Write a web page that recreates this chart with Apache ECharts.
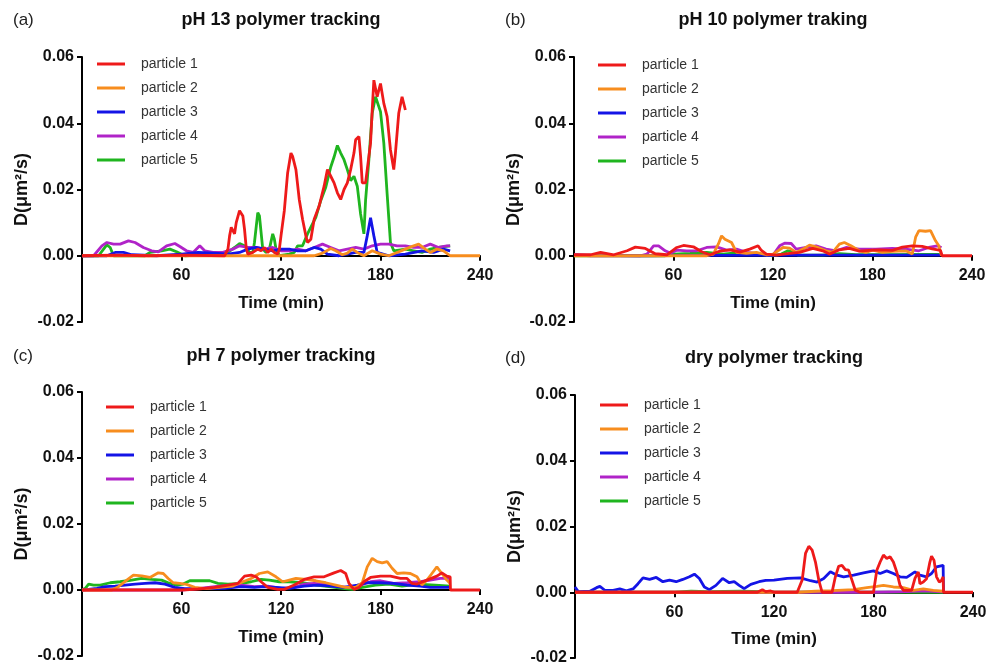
<!DOCTYPE html>
<html>
<head>
<meta charset="utf-8">
<script src="https://cdn.jsdelivr.net/npm/echarts@6/dist/echarts.min.js"></script>
<style>
  html, body { margin: 0; padding: 0; background: #fff; }
</style>
</head>
<body>
<div id="main" style="width: 990px;height:666px;"></div>
<script type="text/javascript">
// series names + colours, panel letters and titles
var names = ['particle 1', 'particle 2', 'particle 3', 'particle 4', 'particle 5'];
var colors = ['#ee1a1a', '#f78d1e', '#1414e6', '#b023c8', '#1fb51f'];
var letters = ['(a)', '(b)', '(c)', '(d)'];
var titles = ['pH 13 polymer tracking', 'pH 10 polymer traking', 'pH 7 polymer tracking', 'dry polymer tracking'];

// axis ranges (min / max / step)
var timeRange = [0, 240, 60];
var dRange = [-0.02, 0.06, 0.02];

// (a) pH 13 -- [time (min), D]
var a1 = [[0,0],[20,0.0002],[40,0],[60,0.0002],[86,0],[88,0.002],[89,0.006],[90,0.0086],[92,0.0066],[93,0.01],[95,0.0136],[97,0.012],[98,0.008],[99,0.0025],[100,0.0005],[103,0.001],[106,0.002],[108,0.0015],[110,0.0025],[112,0.001],[114,0.002],[116,0.001],[118,0.0005],[119,0.002],[120,0.006],[122,0.0136],[124,0.025],[126,0.031],[127,0.03],[129,0.026],[131,0.017],[133,0.011],[135,0.006],[136,0.004],[138,0.005],[140,0.011],[143,0.015],[146,0.021],[148,0.026],[150,0.024],[152,0.022],[154,0.019],[156,0.017],[158,0.02],[160,0.022],[162,0.026],[164,0.031],[165,0.035],[167,0.036],[168,0.03],[169,0.022],[171,0.022],[172,0.026],[174,0.034],[175,0.044],[176,0.053],[178,0.048],[180,0.052],[182,0.046],[184,0.042],[186,0.032],[188,0.026],[189,0.031],[191,0.043],[193,0.048],[195,0.044]];
var a2 = [[0,0],[140,0],[145,0.0008],[150,0.0022],[153,0.0015],[157,0.0003],[160,0.0008],[163,0.002],[166,0.001],[170,0],[175,0.0015],[180,0.0005],[185,0],[190,0.001],[195,0.002],[200,0.003],[203,0.0035],[207,0.002],[210,0.001],[214,0.002],[218,0.0015],[222,0],[240,0]];
var a3 = [[0,0],[15,0],[20,0.001],[25,0.001],[30,0.0003],[45,0],[60,0.0005],[70,0.001],[80,0.0008],[88,0.0005],[95,0.001],[100,0.002],[105,0.0025],[110,0.002],[115,0.0015],[120,0.002],[125,0.002],[130,0.0015],[135,0.0015],[140,0.0025],[144,0.002],[148,0.0005],[155,0],[160,0.0005],[165,0.001],[170,0.001],[172,0.006],[174,0.0115],[175,0.011],[176,0.006],[178,0.001],[185,0],[195,0.0005],[205,0.0015],[212,0.001],[218,0.002],[222,0.0015]];
var a4 = [[0,0],[7,0],[12,0.003],[15,0.004],[19,0.0035],[23,0.0035],[28,0.0045],[32,0.004],[37,0.0025],[42,0.0015],[46,0.0012],[51,0.003],[56,0.0037],[59,0.0028],[63,0.0015],[67,0.001],[71,0.003],[74,0.0015],[79,0.001],[85,0.001],[91,0.002],[95,0.003],[100,0.0025],[105,0.0025],[110,0.002],[115,0.0025],[120,0.0015],[125,0.0015],[130,0.002],[135,0.0015],[140,0.0025],[145,0.0035],[150,0.0025],[155,0.0015],[160,0.002],[165,0.0025],[170,0.002],[175,0.003],[180,0.0035],[185,0.0035],[190,0.003],[195,0.003],[200,0.0025],[205,0.0025],[210,0.0035],[215,0.0025],[220,0.003],[222,0.003]];
var a5 = [[0,0],[10,0],[13,0.002],[15,0.0033],[17,0.0025],[19,0],[38,0],[41,0.001],[48,0.0015],[53,0.002],[57,0.0012],[62,0],[82,0.0005],[88,0.001],[92,0.0025],[95,0.0037],[98,0.003],[101,0.001],[103,0.001],[104,0.004],[106,0.013],[107,0.012],[109,0.002],[111,0.001],[113,0.002],[115,0.0066],[116,0.005],[117,0.002],[119,0],[125,0.0005],[128,0.001],[130,0.003],[133,0.003],[136,0.0066],[139,0.0096],[141,0.0116],[144,0.0167],[147,0.0207],[150,0.0268],[152,0.0298],[154,0.0333],[156,0.031],[158,0.029],[160,0.026],[162,0.0227],[164,0.024],[166,0.021],[168,0.0126],[170,0.0066],[171,0.0167],[173,0.029],[175,0.043],[177,0.048],[180,0.0435],[182,0.034],[184,0.0187],[186,0.004],[188,0.0015],[195,0.002],[200,0.0015],[205,0.001],[210,0.002],[215,0.0025],[222,0.003]];

// (b) pH 10
var b1 = [[0,0.0003],[10,0.0003],[16,0.001],[24,0.0003],[32,0.0015],[37,0.0026],[43,0.0022],[49,0.0006],[56,0.0003],[62,0.0025],[66,0.0031],[72,0.0027],[77,0.0012],[82,0.0003],[88,0.0014],[94,0.0018],[100,0.0011],[106,0.002],[111,0.003],[113,0.0016],[116,0.0005],[122,0.0002],[130,0.0007],[136,0.001],[144,0.0022],[150,0.0015],[154,0.0005],[160,0.0018],[166,0.0022],[172,0.0014],[178,0.0016],[184,0.0018],[192,0.0016],[198,0.0026],[204,0.003],[210,0.0028],[216,0.0021],[221,0.0016],[222,0],[240,0]];
var b2 = [[0,0],[80,0],[84,0.0005],[87,0.0035],[89,0.006],[91,0.005],[92,0.0045],[95,0.004],[98,0.001],[104,0.0007],[110,0.001],[116,0.0003],[120,0.0005],[126,0.0025],[130,0.0023],[134,0.001],[138,0.002],[142,0.0032],[147,0.0025],[152,0.0015],[156,0.001],[160,0.0035],[163,0.004],[167,0.003],[172,0.0015],[176,0.001],[180,0.0017],[186,0.001],[192,0.0013],[200,0.0015],[204,0.0005],[206,0.0056],[208,0.0076],[212,0.0074],[215,0.0076],[218,0.0045],[220,0.003],[221.6,0]];
var b3 = [[0,0.0002],[40,0],[80,0.0001],[150,0.0002],[221,0.0002]];
var b4 = [[0,0.0003],[10,0],[40,0],[44,0.0005],[48,0.003],[51,0.003],[55,0.0015],[58,0.0008],[62,0.0017],[68,0.0015],[74,0.0015],[80,0.0025],[86,0.0027],[92,0.0017],[98,0.002],[104,0.001],[110,0.0007],[116,0.0002],[120,0.0002],[124,0.003],[127,0.0038],[131,0.0037],[134,0.002],[140,0.0025],[146,0.003],[152,0.002],[158,0.0015],[164,0.0025],[172,0.002],[182,0.002],[192,0.0022],[200,0.002],[208,0.0015],[214,0.0025],[219,0.003],[221.6,0.0025]];
var b5 = [[0,0],[55,0],[60,0.0005],[70,0.0007],[80,0.001],[90,0.0005],[100,0.001],[110,0.0005],[120,0],[125,0.0005],[129,0.0015],[132,0.0012],[135,0.0002],[150,0.0002],[160,0.0006],[170,0.0003],[190,0.0003],[210,0.0004],[221,0.0004]];

// (c) pH 7
var c1 = [[0,0],[60,0],[70,0.0003],[80,0.0008],[88,0.0015],[94,0.002],[98,0.0042],[102,0.0045],[105,0.004],[108,0.0025],[112,0.0008],[118,0.0002],[122,0.0002],[128,0.0015],[134,0.0032],[140,0.004],[146,0.004],[152,0.0052],[156,0.0059],[159,0.005],[161,0.002],[164,0.0002],[167,0.0008],[170,0.0025],[174,0.0038],[180,0.0042],[186,0.0042],[192,0.0035],[196,0.0035],[199,0.002],[202,0.0018],[208,0.003],[214,0.0042],[217,0.0052],[220,0.0042],[222,0.004],[222.2,0],[240,0]];
var c2 = [[0,0],[18,0],[22,0.001],[27,0.003],[31,0.0045],[36,0.0043],[41,0.0038],[46,0.0052],[49,0.005],[52,0.0035],[55,0.0022],[59,0.002],[63,0.0017],[68,0.0008],[75,0.0004],[83,0.0008],[91,0.0012],[97,0.0025],[102,0.0035],[107,0.005],[112,0.0055],[117,0.004],[121,0.0025],[125,0.003],[129,0.0035],[135,0.0032],[141,0.0028],[147,0.0022],[153,0.0015],[159,0.0008],[165,0.0008],[169,0.0022],[172,0.007],[175,0.0096],[178,0.0086],[181,0.0082],[184,0.0086],[187,0.0066],[190,0.005],[194,0.0052],[198,0.005],[202,0.004],[205,0.0015],[208,0.003],[211,0.005],[214,0.007],[217,0.005],[220,0.003],[222,0.002]];
var c3 = [[0,0],[4,0.0002],[9,0.0005],[14,0.001],[20,0.0012],[26,0.0015],[32,0.0018],[38,0.002],[44,0.0022],[50,0.0018],[56,0.0008],[62,0.0004],[74,0.0004],[86,0.0005],[96,0.001],[104,0.0008],[110,0.001],[117,0.0008],[125,0.0005],[134,0.0012],[142,0.0015],[150,0.0012],[158,0.0008],[166,0.0015],[172,0.0022],[180,0.0022],[188,0.002],[196,0.0015],[204,0.0012],[210,0.0008],[222,0.0008]];
var c4 = [[0,0],[60,0],[70,0.0004],[80,0.001],[90,0.0015],[96,0.0015],[104,0.001],[112,0.0012],[120,0.0005],[128,0.0008],[134,0.0018],[140,0.002],[146,0.0018],[154,0.001],[162,0.0008],[168,0.0015],[174,0.0025],[180,0.0028],[188,0.002],[196,0.0022],[204,0.0025],[210,0.003],[216,0.0035],[222,0.0035]];
var c5 = [[0,0],[2,0.0005],[4,0.0018],[7,0.0015],[11,0.0015],[17,0.0022],[23,0.0025],[30,0.003],[36,0.0035],[42,0.0032],[48,0.003],[52,0.0022],[57,0.0015],[61,0.0018],[65,0.0028],[71,0.0028],[77,0.0028],[82,0.002],[88,0.0018],[96,0.002],[102,0.0025],[108,0.0032],[113,0.003],[119,0.0025],[125,0.0025],[133,0.0022],[141,0.0015],[149,0.001],[157,0.0005],[163,0.0002],[169,0.0008],[177,0.0015],[185,0.0018],[193,0.0012],[203,0.0018],[213,0.0015],[222,0.0012]];

// (d) dry
var d1 = [[0,0],[110,0],[113,0.0008],[115,0.0002],[118,0.0004],[120,0],[134,0],[137,0.0037],[139,0.0118],[141,0.014],[143,0.0128],[145,0.0092],[147,0.0037],[149,0],[155,0],[157,0.0047],[159,0.0079],[161,0.0082],[163,0.0069],[165,0.0067],[167,0.0037],[169,0.0006],[172,0],[180,0],[182,0.0067],[184,0.0092],[186,0.0113],[188,0.0103],[190,0.0108],[192,0.0092],[194,0.0062],[196,0.0021],[198,0.0006],[203,0.0006],[205,0.0042],[207,0.0062],[208,0.0026],[210,0.0031],[212,0.0041],[214,0.0092],[215,0.011],[216.5,0.0097],[218,0.0047],[219.7,0.0031],[221,0.0036],[222,0.0047],[222.2,0],[240,0]];
var d2 = [[0,0],[135,0],[145,0.0003],[155,0.0005],[168,0.0008],[176,0.0014],[182,0.0018],[186,0.0021],[192,0.0016],[198,0.0014],[204,0.0006],[210,0.001],[216,0.0006],[222,0.0003]];
var d3 = [[0,0.0016],[1,0.0016],[2,0.0002],[9,0.0003],[13,0.0014],[15,0.0018],[18,0.0006],[23,0.0006],[27,0.001],[31,0.0004],[35,0.001],[38,0.0026],[41,0.0044],[45,0.0039],[49,0.0045],[53,0.0032],[57,0.0037],[61,0.0032],[65,0.0039],[69,0.0047],[72,0.0055],[75,0.0042],[78,0.0016],[81,0.0008],[85,0.0021],[89,0.0042],[93,0.0029],[96,0.0032],[99,0.0021],[102,0.0011],[106,0.0024],[111,0.0032],[115,0.0036],[120,0.0037],[128,0.0042],[136,0.0044],[142,0.0035],[146,0.0031],[150,0.0042],[154,0.0062],[158,0.0052],[162,0.0047],[168,0.0052],[174,0.0059],[180,0.0065],[184,0.0057],[188,0.0065],[192,0.0057],[196,0.0047],[200,0.0045],[205,0.0062],[208,0.0052],[212,0.0047],[215,0.0057],[218,0.0077],[222,0.0082],[222.2,0]];
var d4 = [[0,0],[180,0],[200,0.0002],[210,0.0004],[216,0.0003],[222,0.0001]];
var d5 = [[0,0],[60,0],[70,0.0003],[80,0.0002],[100,0.0003],[120,0.0001],[222,0]];

var panels = [[a1, a2, a3, a4, a5], [b1, b2, b3, b4, b5], [c1, c2, c3, c4, c5], [d1, d2, d3, d4, d5]];

var chart = echarts.init(document.getElementById('main'), null, { renderer: 'canvas' });
var FONT = '"Liberation Sans", Arial, sans-serif';

// where each panel sits
var grids = [
  { left: 82, top: 57, width: 398, height: 265 },
  { left: 574, top: 57, width: 398, height: 265 },
  { left: 82, top: 392, width: 398, height: 264 },
  { left: 575, top: 395, width: 398, height: 263 }
];
var legendPos = [[97, 56], [598, 57], [106, 399], [600, 397]];
var letterPos = [[13, 20], [505, 20], [13, 356], [505, 358]];

var xAxes = [], yAxes = [], legends = [], series = [], graphics = [];
for (var p = 0; p < 4; p++) {
  var g = grids[p];
  // move the time axis (line, ticks, labels, name) up to D = 0
  var zeroShift = g.height * (0 - dRange[0]) / (dRange[1] - dRange[0]);
  xAxes.push({
    gridIndex: p, type: 'value', position: 'bottom', offset: -zeroShift,
    min: timeRange[0], max: timeRange[1], interval: timeRange[2],
    name: 'Time (min)', nameLocation: 'middle', nameGap: 39,
    nameTextStyle: { fontFamily: FONT, fontWeight: 'bold', fontSize: 17, color: '#111' },
    axisLine: { onZero: false, lineStyle: { color: '#000', width: 2 } },
    axisTick: { show: true, length: 5, lineStyle: { color: '#000', width: 2 } },
    axisLabel: {
      margin: 12, fontFamily: FONT, fontWeight: 'bold', fontSize: 16, color: '#111',
      formatter: function (v) { return v === 0 ? '' : v; }
    },
    splitLine: { show: false }
  });
  yAxes.push({
    gridIndex: p, type: 'value',
    min: dRange[0], max: dRange[1], interval: dRange[2],
    name: 'D(\u03bcm\u00b2/s)', nameLocation: 'middle', nameGap: 51,
    nameTextStyle: { fontFamily: FONT, fontWeight: 'bold', fontSize: 18, color: '#111' },
    axisLine: { show: true, onZero: false, lineStyle: { color: '#000', width: 2 } },
    axisTick: { show: true, length: 5, lineStyle: { color: '#000', width: 2 } },
    axisLabel: {
      margin: 8, fontFamily: FONT, fontWeight: 'bold', fontSize: 16, color: '#111',
      formatter: function (v) { return v.toFixed(2); }
    },
    splitLine: { show: false }
  });
  legends.push({
    data: names.slice(), orient: 'vertical',
    left: legendPos[p][0], top: legendPos[p][1], padding: 0,
    icon: 'rect', itemWidth: 28, itemHeight: 3, itemGap: 8,
    textStyle: { fontFamily: FONT, fontSize: 14, color: '#333', padding: [0, 0, 0, 11], lineHeight: 16 },
    selectedMode: false
  });
  // red drawn last so it sits on top
  for (var s = 4; s >= 0; s--) {
    series.push({
      name: names[s], type: 'line', xAxisIndex: p, yAxisIndex: p,
      data: panels[p][s], showSymbol: false, symbol: 'none',
      lineStyle: { color: colors[s], width: 2.8 },
      itemStyle: { color: colors[s] },
      animation: false
    });
  }
  graphics.push({
    type: 'text', x: letterPos[p][0], y: letterPos[p][1],
    style: { text: letters[p], font: '17px ' + FONT, fill: '#222', verticalAlign: 'middle', textVerticalAlign: 'middle' }
  });
  graphics.push({
    type: 'text', x: g.left + g.width / 2, y: letterPos[p][1],
    style: { text: titles[p], font: 'bold 18px ' + FONT, fill: '#111', align: 'center', textAlign: 'center', verticalAlign: 'middle', textVerticalAlign: 'middle' }
  });
}

chart.setOption({
  backgroundColor: '#fff',
  animation: false,
  grid: grids,
  xAxis: xAxes,
  yAxis: yAxes,
  legend: legends,
  graphic: graphics,
  series: series
});
</script>
</body>
</html>
